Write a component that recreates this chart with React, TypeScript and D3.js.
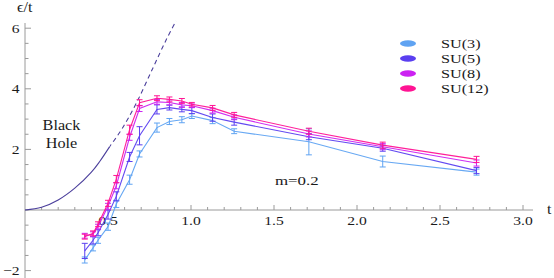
import React from "react";
import * as d3 from "d3";

const temps = [0.36, 0.41, 0.44, 0.5, 0.55, 0.63, 0.69, 0.795, 0.87, 0.945, 1.005, 1.13, 1.26, 1.71, 2.155, 2.72];

const su3 = [-1.65, -1.25, -1.0, -0.55, 0.2, 1.0, 1.85, 2.72, 2.92, 2.98, 3.1, 2.95, 2.6, 2.25, 1.6, 1.25];
const su3Err = [0.1, 0.1, 0.1, 0.12, 0.12, 0.15, 0.1, 0.15, 0.1, 0.1, 0.08, 0.1, 0.08, 0.43, 0.18, 0.1];
const su5 = [-1.35, -1.0, -0.75, -0.15, 0.45, 1.75, 2.45, 3.32, 3.38, 3.32, 3.28, 3.05, 2.9, 2.42, 2.04, 1.3];
const su5Err = [0.25, 0.12, 0.1, 0.15, 0.15, 0.15, 0.3, 0.15, 0.08, 0.08, 0.1, 0.12, 0.1, 0.1, 0.1, 0.1];
const su8 = [-0.85, -0.8, -0.55, 0.12, 0.8, 2.4, 3.35, 3.57, 3.55, 3.47, 3.44, 3.28, 3.06, 2.51, 2.09, 1.55];
const su8Err = [0.08, 0.08, 0.08, 0.1, 0.1, 0.1, 0.1, 0.08, 0.08, 0.08, 0.06, 0.08, 0.08, 0.1, 0.1, 0.1];
const su12 = [-0.88, -0.77, -0.47, 0.22, 1.02, 2.65, 3.54, 3.69, 3.65, 3.6, 3.49, 3.37, 3.14, 2.6, 2.14, 1.67];
const su12Err = [0.08, 0.08, 0.08, 0.1, 0.12, 0.15, 0.1, 0.08, 0.08, 0.08, 0.06, 0.08, 0.08, 0.1, 0.1, 0.1];

const seriesNames = ["SU(3)", "SU(5)", "SU(8)", "SU(12)"];
const seriesColors = ["#5fa3f2", "#5a3ff0", "#cc22f2", "#ff1493"];

// black hole curve (solid part, then dashed part)
const bhSolidT = [0, 0.1, 0.2, 0.3, 0.4, 0.45, 0.51];
const bhSolidV = [0, 0.09, 0.33, 0.72, 1.25, 1.6, 2.09];
const bhDashT = [0.45, 0.51, 0.58, 0.67, 0.77, 0.85, 0.91];
const bhDashV = [1.6, 2.09, 2.64, 3.52, 4.68, 5.61, 6.24];

const xTickValues = [0.5, 1.0, 1.5, 2.0, 2.5, 3.0];
const yTickValues = [-2, 2, 4, 6];

const W = 554;
const H = 278;
const FONT = "'Liberation Serif', 'Times New Roman', serif";

type TProps = {
  x: number;
  y: number;
  size: number;
  sx?: number;
  anchor?: "start" | "middle" | "end";
  children: React.ReactNode;
};

function T({ x, y, size, sx = 1, anchor = "start", children }: TProps) {
  return (
    <text
      transform={`translate(${x},${y}) scale(${sx},1)`}
      textAnchor={anchor}
      fontSize={size}
      fill="#1a1a1a"
      style={{ fontFamily: FONT }}
    >
      {children}
    </text>
  );
}

export default function App() {
  const x = d3.scaleLinear().domain([0, 3]).range([25, 523]);
  const y = d3.scaleLinear().domain([0, 6]).range([210, 28.2]);

  const series = [su3, su5, su8, su12];
  const errs = [su3Err, su5Err, su8Err, su12Err];

  const line = d3
    .line<[number, number]>()
    .x((d) => x(d[0]))
    .y((d) => y(d[1]));
  const curve = d3
    .line<[number, number]>()
    .x((d) => x(d[0]))
    .y((d) => y(d[1]))
    .curve(d3.curveCatmullRom);

  const solidPts = bhSolidT.map((t, i) => [t, bhSolidV[i]] as [number, number]);
  const dashPts = bhDashT.map((t, i) => [t, bhDashV[i]] as [number, number]);

  const minorX = d3.range(1, 31).map((i) => i / 10);
  const minorY = d3.range(-4, 13).map((i) => i / 2);
  const axisColor = "#9a9a9a";

  return (
    <svg width={W} height={H} style={{ position: "absolute", left: 0, top: 0 }}>
      <defs>
        <clipPath id="dashclip">
          <rect x={x(0.51)} y={0} width={W} height={H} />
        </clipPath>
      </defs>
      <rect width={W} height={H} fill="#fff" />
      {/* axes */}
      <line x1={x(0)} x2={533} y1={y(0)} y2={y(0)} stroke={axisColor} strokeWidth={1} />
      <line x1={x(0)} x2={x(0)} y1={23} y2={278} stroke={axisColor} strokeWidth={1} />
      {minorX.map((t, i) => {
        const major = Math.abs(t * 2 - Math.round(t * 2)) < 1e-6;
        return (
          <line key={"mx" + i} x1={x(t)} x2={x(t)} y1={y(0)} y2={y(0) - (major ? 5 : 3)} stroke={axisColor} strokeWidth={1} />
        );
      })}
      {minorY.map((v, i) => {
        const major = Math.abs(v / 2 - Math.round(v / 2)) < 1e-6 && v !== 0;
        return (
          <line key={"my" + i} x1={x(0)} x2={x(0) + (major ? 6 : 3.5)} y1={y(v)} y2={y(v)} stroke={axisColor} strokeWidth={1} />
        );
      })}
      {xTickValues.map((t) => (
        <T key={"xt" + t} x={x(t)} y={225} size={13} sx={1.2} anchor="middle">
          {t.toFixed(1)}
        </T>
      ))}
      {yTickValues.map((v) => (
        <T key={"yt" + v} x={19.5} y={y(v) + 4.5} size={13} sx={1.2} anchor="end">
          {v < 0 ? "\u2212" + Math.abs(v) : String(v)}
        </T>
      ))}
      <T x={17} y={12} size={14} sx={1.15}>
        ϵ/t
      </T>
      <T x={547} y={214} size={14} sx={1.15}>
        t
      </T>

      {/* black hole curve */}
      <path d={curve(solidPts) || ""} fill="none" stroke="#4b3f9c" strokeWidth={1.1} />
      <path d={curve(dashPts) || ""} fill="none" stroke="#4b3f9c" strokeWidth={1.1} strokeDasharray="4.5,3.5" clipPath="url(#dashclip)" />
      <T x={61.5} y={130} size={15} sx={1.08} anchor="middle">
        Black
      </T>
      <T x={61.5} y={148} size={15} sx={1.08} anchor="middle">
        Hole
      </T>
      <T x={275} y={185} size={13.5} sx={1.25}>
        m=0.2
      </T>

      {/* series */}
      {series.map((vals, si) => {
        const color = seriesColors[si];
        const pts = temps.map((t, i) => [t, vals[i]] as [number, number]);
        return (
          <g key={"s" + si}>
            <path d={line(pts) || ""} fill="none" stroke={color} strokeWidth={1.1} opacity={0.95} />
            {temps.map((t, i) => {
              const cx = x(t);
              const lo = y(vals[i] - errs[si][i]);
              const hi = y(vals[i] + errs[si][i]);
              return (
                <g key={i} stroke={color} strokeWidth={1}>
                  <line x1={cx} x2={cx} y1={lo} y2={hi} />
                  <line x1={cx - 3} x2={cx + 3} y1={lo} y2={lo} />
                  <line x1={cx - 3} x2={cx + 3} y1={hi} y2={hi} />
                </g>
              );
            })}
          </g>
        );
      })}

      {/* legend */}
      {seriesNames.map((name, i) => (
        <g key={"lg" + i}>
          <ellipse cx={408} cy={43.5 + i * 15} rx={8} ry={3.2} fill={seriesColors[i]} />
          <T x={441} y={48 + i * 15} size={13.5} sx={1.2}>
            {name}
          </T>
        </g>
      ))}
    </svg>
  );
}
